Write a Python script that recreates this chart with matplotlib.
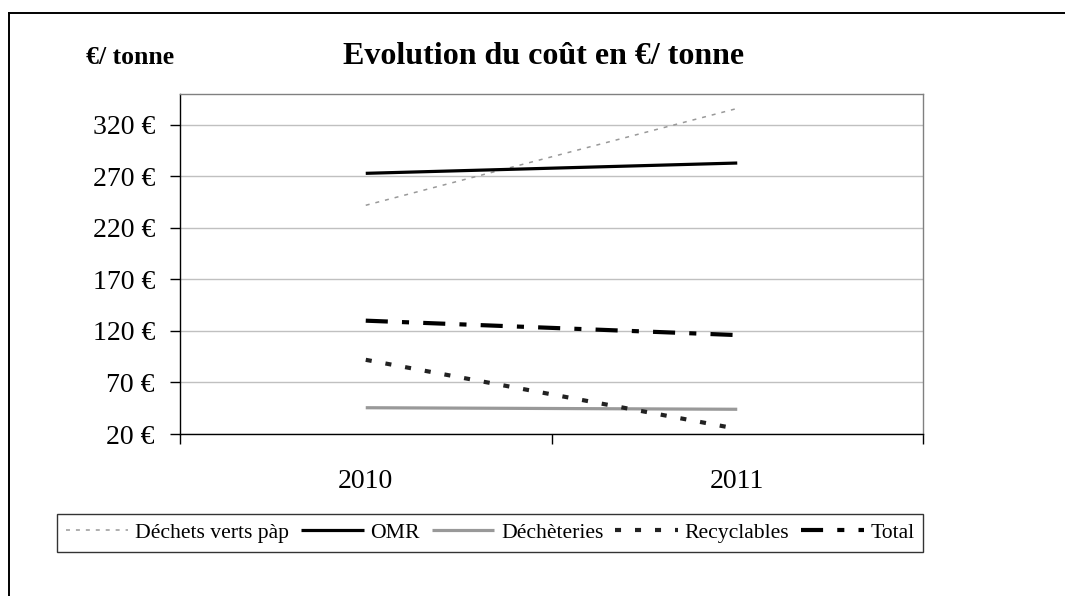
import matplotlib
matplotlib.use("Agg")
import matplotlib.pyplot as plt
from matplotlib.lines import Line2D

years = ["2010", "2011"]
dechets_verts = [242, 336]
omr = [273, 283]
decheteries = [45.5, 44]
recyclables = [92, 25]
total = [130, 116]

series_names = ["Déchets verts pàp", "OMR", "Déchèteries", "Recyclables", "Total"]
yticks = [20, 70, 120, 170, 220, 270, 320]

plt.rcParams['font.family'] = ['Liberation Serif', 'DejaVu Serif']

W, H = 1065, 596
fig = plt.figure(figsize=(W / 100, H / 100), dpi=100)
ax = fig.add_axes([180 / W, 1 - 434 / H, (923 - 180) / W, (434 - 94) / H])

x = list(range(len(years)))
l1, = ax.plot(x, dechets_verts, color='#999999', lw=1.1, linestyle=(0, (2.6, 3.9)))
l2, = ax.plot(x, omr, color='black', lw=2.3, solid_capstyle='butt')
l3, = ax.plot(x, decheteries, color='#999999', lw=2.3, solid_capstyle='butt')
l4, = ax.plot(x, recyclables, color='#222222', lw=3.0, linestyle=(0, (1.45, 3.35)), dash_capstyle='butt')
l5, = ax.plot(x, total, color='black', lw=3.0, linestyle=(0, (5.3, 3.4, 1.7, 3.4)), dash_capstyle='butt')

ax.set_xlim(-0.5, 1.5)
ax.set_ylim(20, 350)
ax.set_yticks(yticks)
ax.set_yticklabels([f"{v} €" for v in yticks])
ax.set_xticks([0, 1])
ax.set_xticklabels(years)
ax.set_xticks([-0.5, 0.5, 1.5], minor=True)
ax.tick_params(axis='x', which='major', length=0, pad=25, labelsize=20)
ax.tick_params(axis='x', which='minor', length=7, width=1, direction='out', color='black')
ax.tick_params(axis='y', length=7, width=1, direction='out', pad=11, labelsize=20, color='black')
ax.grid(axis='y', color='#c0c0c0', lw=1)
ax.set_axisbelow(True)
for s in ['top', 'right']:
    ax.spines[s].set_color('#808080')
    ax.spines[s].set_linewidth(1)
for s in ['left', 'bottom']:
    ax.spines[s].set_color('black')
    ax.spines[s].set_linewidth(1)

fig.text(544 / W, 1 - 57 / H, "Evolution du coût en €/ tonne", ha='center', va='center',
         fontsize=23, fontweight='bold')
fig.text(130 / W, 1 - 57 / H, "€/ tonne", ha='center', va='center',
         fontsize=18.5, fontweight='bold')

leg = fig.legend([l1, l2, l3, l4, l5], series_names, loc='center',
                 bbox_to_anchor=(490 / W, 1 - 533 / H), ncol=5, fontsize=15.6,
                 frameon=True, fancybox=False, shadow=False, handlelength=2.9,
                 handletextpad=0.3, columnspacing=0.55, borderpad=0.4,
                 borderaxespad=0)
leg.get_frame().set_edgecolor('black')
leg.get_frame().set_linewidth(1)

fig.add_artist(Line2D([9 / W, 1], [1 - 13 / H, 1 - 13 / H], transform=fig.transFigure,
                      color='black', lw=1.4))
fig.add_artist(Line2D([9 / W, 9 / W], [0, 1 - 13 / H], transform=fig.transFigure,
                      color='black', lw=1.4))

fig.savefig("out.png", dpi=100)
